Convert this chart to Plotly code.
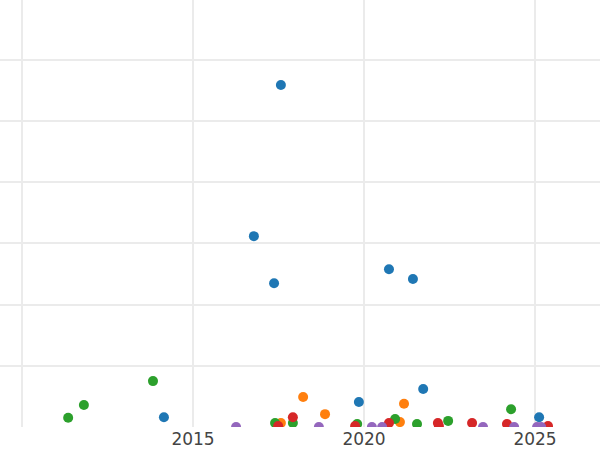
import plotly.graph_objects as go

# Values (x = year, y = value)
blue_x = [2017.57, 2016.78, 2017.37, 2020.73, 2021.43, 2021.73, 2019.85, 2014.15, 2025.12]
blue_y = [559, 312, 235, 258, 242, 62, 41, 16, 16]

orange_x = [2017.57, 2018.22, 2018.86, 2021.05, 2021.17]
orange_y = [6.5, 49, 21, 8, 38]

green_x = [2011.35, 2011.81, 2013.83, 2017.40, 2017.92, 2019.80, 2020.91, 2021.55, 2022.46, 2024.30]
green_y = [15, 36, 75, 6.5, 6.5, 5, 13, 5, 10, 29]

red_x = [2017.49, 2017.92, 2019.74, 2020.73, 2022.16, 2022.19, 2023.16, 2024.18, 2025.38]
red_y = [1.6, 16, 1.6, 6.5, 6.5, 1.6, 6.5, 5, 1.6]

purple_x = [2016.26, 2018.68, 2020.23, 2020.53, 2023.48, 2024.39, 2025.06, 2025.18]
purple_y = [0, 0, 0, 0, 0, 0, 0, 0]

series = [
    (blue_x, blue_y, "#1f77b4"),
    (orange_x, orange_y, "#ff7f0e"),
    (green_x, green_y, "#2ca02c"),
    (red_x, red_y, "#d62728"),
    (purple_x, purple_y, "#9467bd"),
]

fig = go.Figure()
for xs, ys, color in series:
    fig.add_trace(go.Scatter(
        x=xs,
        y=ys,
        mode="markers",
        marker=dict(color=color, size=10),
        showlegend=False,
    ))

fig.update_layout(
    width=600,
    height=450,
    plot_bgcolor="white",
    paper_bgcolor="white",
    margin=dict(l=0, r=0, t=0, b=23),
    font=dict(family="DejaVu Sans", size=17, color="#444"),
    xaxis=dict(
        range=[2009.357, 2026.9],
        tickvals=[2010, 2015, 2020, 2025],
        ticktext=["", "2015", "2020", "2025"],
        gridcolor="#ebebeb",
        gridwidth=1.5,
        zeroline=False,
        showline=False,
        ticks="",
    ),
    yaxis=dict(
        range=[0, 698],
        dtick=100,
        showticklabels=False,
        gridcolor="#ebebeb",
        gridwidth=1.5,
        zeroline=False,
        showline=False,
        ticks="",
    ),
)

# drop the page's default body margin so the figure sits at the window corner
fig.write_html(
    "out.html",
    config={"displayModeBar": False},
    post_script="document.body.style.margin='0';",
)
